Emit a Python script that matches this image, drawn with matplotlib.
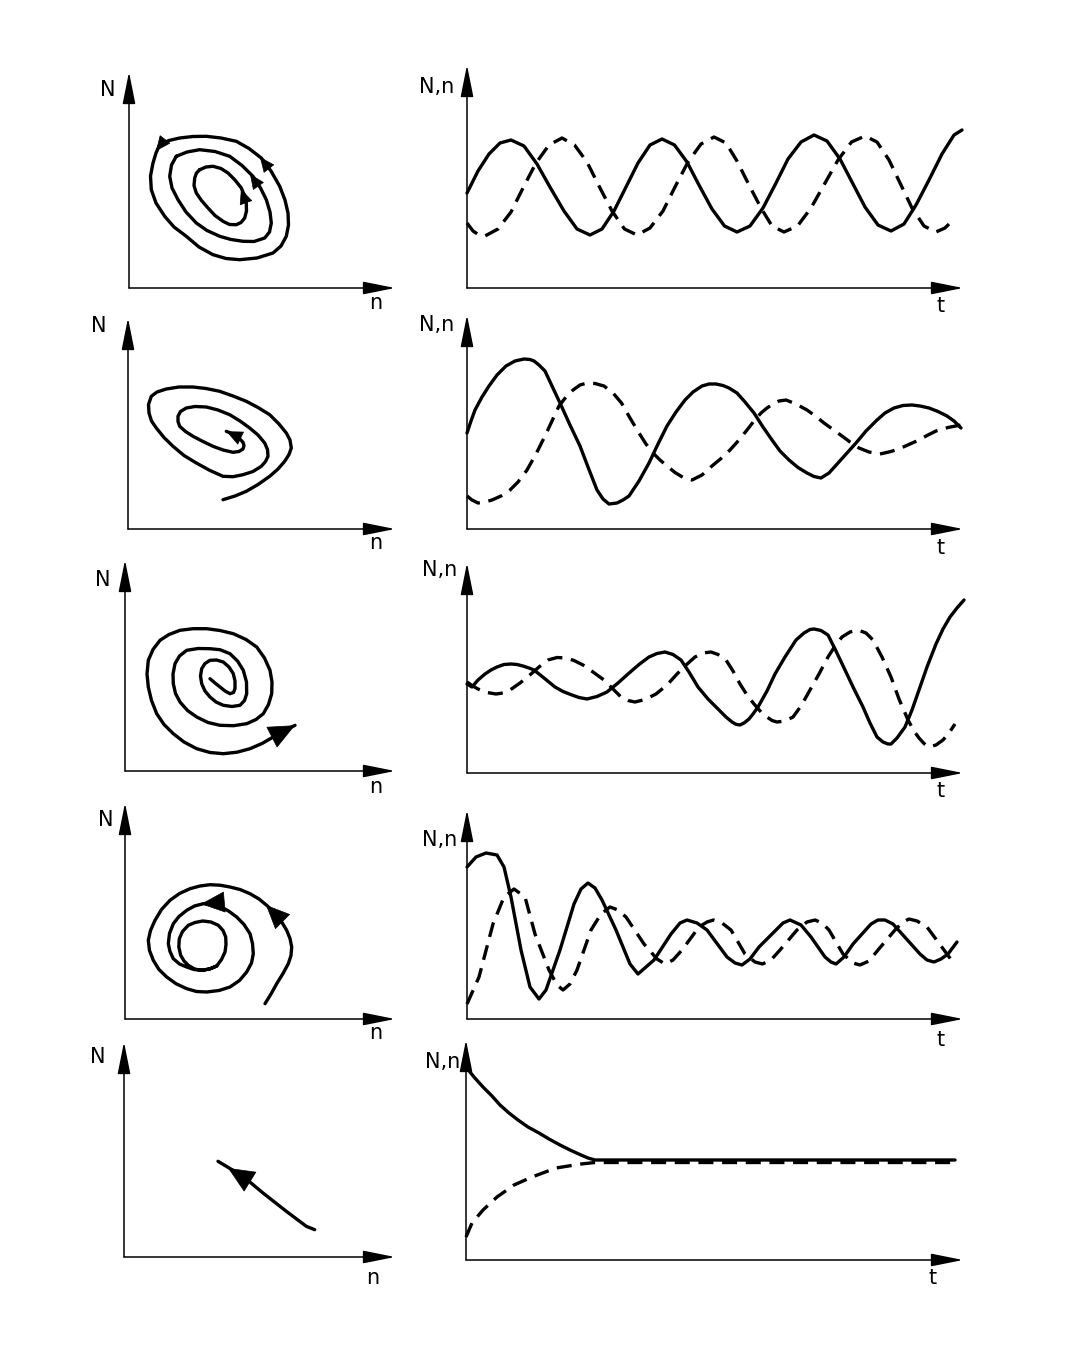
import matplotlib
matplotlib.use('Agg')
import matplotlib.pyplot as plt

W, H = 1073, 1371
fig = plt.figure(figsize=(W / 100, H / 100), dpi=100)

# ---- time series (t, value) ----
t1_N = [0, 11, 22, 33, 44, 57, 70, 83.5, 97, 110, 123, 135, 147, 159, 171, 183, 195, 207.5, 220, 232.5, 245, 257.5,
        270, 283, 296, 308.5, 321, 334, 347, 360, 373, 385.5, 398, 411, 424, 437, 449, 462, 475, 487, 495]
v1_N = [95, 117, 134, 145, 148, 142, 124, 100, 77, 59, 53, 59, 77, 101, 125, 143, 149, 143, 126, 102, 79, 62,
        56, 62, 80, 104, 129, 146, 153, 147, 129, 105, 81, 63, 57, 64, 83, 108, 134, 153, 158]
t1_n = [0, 6, 12, 18, 31, 44, 56.5, 69, 82, 95, 107.5, 120, 132.5, 145, 157.5, 170, 183, 196, 208.5, 221, 234, 247,
        259, 270, 282, 294, 305, 317, 330.5, 344, 357.5, 371, 384.5, 398, 410, 422, 433.5, 445, 457, 469, 478, 488]
v1_n = [65, 57, 53, 52, 59, 76, 101, 125, 143, 150, 143, 126, 101, 77, 59, 53, 60, 77, 102, 126, 144, 151,
        145, 127, 103, 80, 62, 56, 62, 80, 104, 128, 146, 152, 146, 128, 104, 80, 62, 56, 60, 70]

t2_N = [0, 4, 8, 15, 22, 30, 39, 48, 57, 63, 67, 72, 78, 85, 93, 103, 113, 121, 130, 136, 142, 150, 156, 162, 172,
        182, 191, 200, 209, 218, 226, 235, 242, 249, 256, 262, 270, 278, 287, 296, 305, 313, 322, 331, 340, 347,
        354, 362, 371, 380, 389, 399, 410, 418, 427, 436, 445, 453, 462, 471, 480, 487, 494]
v2_N = [96, 108, 119, 132, 143, 154, 163, 168, 170, 169.5, 168, 164, 158, 143, 126, 104, 83, 62, 39, 30, 25, 26,
        29, 33, 48, 66, 85, 103, 117, 129, 137, 143, 145, 145, 143.5, 141, 136, 127, 116, 102, 89, 78, 69, 61.5,
        56, 52.5, 51, 56, 66, 76, 86, 98, 109, 116, 121, 123.5, 124, 123, 121, 117.5, 113, 108, 101]
t2_n = [0, 5, 11, 18, 25, 34, 43, 51, 60, 69, 78, 85, 92, 99, 106, 113, 120, 128, 137, 146, 154.5, 163, 172, 179,
        186, 193, 200, 208, 217, 225, 235, 245, 254, 263, 272, 280, 287, 294, 300, 306, 312, 319, 329, 340, 349,
        357, 366, 375, 383, 392, 402, 413, 424, 434, 443, 452, 460, 469, 481, 494]
v2_n = [33, 29, 26, 27, 29, 33, 39, 47, 59, 75, 93, 108, 123, 132, 139, 144, 146, 145.5, 143, 136, 126, 111, 96,
        85, 76, 69, 63, 56.5, 51, 49, 54, 63, 70.5, 79, 89, 99, 108, 116, 121, 125, 128, 129, 125, 119, 112.5,
        106, 99.5, 93, 87, 81, 77, 75, 77.5, 81, 85, 89, 93.5, 98, 101.5, 104]

t3_N = [0, 5, 11, 18, 24, 30, 37, 44, 50, 56, 62, 67, 77, 88, 96, 105, 112, 120, 130, 140, 151, 161, 172, 182, 190,
        198, 206, 214, 222, 231, 241, 252, 259, 265, 269, 273, 277, 282, 286, 291, 300, 308, 318, 329, 337, 343,
        347, 354, 361, 369, 378, 387, 396, 403, 410, 416, 421, 424, 430, 438, 445, 452, 460, 469, 476, 483, 490,
        497]
v3_N = [89, 86, 93, 99, 103, 106, 108.5, 109, 108.5, 107, 105, 103, 95, 86, 81.5, 78, 75.5, 74, 76.5, 81, 90, 99,
        108.5, 116, 119.5, 121, 118.5, 113, 101, 86, 74, 63, 56, 51, 48.7, 48, 50, 54, 59, 66, 82, 99, 116, 133,
        140, 143.5, 144, 142.5, 138, 122, 103, 84, 66, 50, 36, 31, 29, 29, 35, 46, 63, 83, 106, 129, 144, 156,
        165, 173]
t3_n = [0, 5, 11, 20, 29, 36, 43, 53, 64, 72, 81, 90, 99, 107, 116, 126, 137, 146, 154, 161, 168, 178, 189, 200,
        210, 219, 228, 236, 244, 251, 259, 266, 273, 280, 287, 294, 300, 305, 310, 318, 326, 334, 343, 352, 361,
        368, 375, 383, 391, 399, 406, 415, 424, 432, 441, 447, 452, 457, 462, 469, 476, 482, 488]
v3_n = [91, 87.5, 84, 80.5, 79, 80, 83, 90, 99, 106, 113, 115.5, 115, 112.5, 108, 101, 93, 84, 76, 72.5, 71,
        73.5, 79, 88, 99, 108, 116, 120, 121, 118.5, 113, 102, 89, 78, 69, 61, 56, 52.5, 51, 52, 56, 67, 83, 99,
        116, 127, 136, 141, 143, 140, 133, 116, 96, 74, 53, 42, 35, 29.5, 26, 28, 33, 40, 49]

t4_N = [0, 9, 19, 30, 37, 44, 54, 63, 72, 79, 93, 107, 114, 121, 128, 135, 149, 163, 171, 187, 204, 213, 220, 230,
        240, 260, 268, 275, 283, 292, 309, 316, 323, 334, 344, 358, 364, 369, 377, 386, 404, 411, 418, 426, 435,
        453, 460, 467, 474, 481, 490]
v4_N = [152, 162, 166, 164, 152, 122, 69, 32, 20, 29, 69, 115, 130, 136, 131, 119, 89, 55, 45, 59, 85, 96, 99, 96,
        89, 62, 56, 54, 60, 72, 89, 96, 99, 94, 82, 62, 57, 55, 62, 75, 95, 99, 99, 95, 85,
        65, 59, 57, 60, 65, 77]
t4_n = [0, 12, 26, 37, 47, 58, 68, 82, 90, 96, 103, 110, 124, 134, 143, 151, 159, 177, 190, 198, 206, 215, 232,
        240, 246.5, 255, 264, 278, 288, 295.5, 304, 313, 330, 340, 348, 355, 362, 376, 386, 393, 402, 411, 428,
        436, 442, 450, 460, 477, 488]
v4_n = [15, 42, 95, 122, 130, 122, 85, 49, 34, 29, 35, 49, 89, 105, 112, 109, 102, 75, 60, 55, 59, 69, 92,
        97, 99, 96, 89, 65, 57, 55, 59, 69, 89, 97, 99, 96, 89, 65, 56, 54, 58, 69, 89,
        97, 100, 98, 92, 69, 54]

t5_N = [0, 8, 17, 26, 34, 43, 52, 62, 73, 83, 94, 104, 115, 122, 129, 160, 250, 350, 489]
v5_N = [193, 183, 173, 164, 155, 147, 140, 133, 127, 121, 115, 110, 105, 102, 100, 100, 100, 100, 100]
t5_n = [0, 6, 17, 31, 48, 66, 90, 115, 129, 200, 300, 489]
v5_n = [23, 37, 50, 63, 75, 83, 92, 96, 97.5, 97.5, 97.5, 97.5]

# ---- phase portraits (n, N) ----
p1_outer_n = [30.7, 40, 50.7, 64, 77.3, 92, 107.3, 120, 132.3, 142, 150.7, 156, 159, 159.5, 157.3, 152, 144, 128,
              110.7, 97, 84, 70, 57.3, 45, 35.7, 27, 22.3, 21.5, 24, 27, 30.7]
p1_outer_N = [143.3, 147.5, 150, 151.5, 151.7, 150, 146.7, 139.5, 130, 117, 101.7, 88, 75, 63, 51.7, 42, 35, 30,
              28.3, 29.5, 33.3, 41, 51.7, 61, 71.7, 85, 98.3, 112, 125, 135, 143.3]
p1_mid_n = [47.3, 58, 70.7, 86, 100.7, 113, 124, 131.5, 137.3, 141, 142.3, 140.5, 135.7, 125, 114, 102, 90.7, 78,
            67.3, 57, 49, 43, 40.7, 42.5, 47.3]
p1_mid_N = [131.7, 136, 138.3, 136.5, 131.7, 122.5, 111.7, 100, 88.3, 76, 65, 56, 50, 46.5, 46.7, 48.5, 51.7, 57.5,
            65, 76, 88.3, 100, 111.7, 123, 131.7]
p1_in_n = [70.7, 77, 84, 92, 99, 106, 112.3, 115.5, 117.3, 117.5, 115.7, 112, 107.3, 100.5, 94, 86, 79, 72.5, 67.3,
           65, 65.7, 67.5, 70.7]
p1_in_N = [118.3, 121, 121.7, 119.5, 115, 108, 100, 92.5, 85, 77, 70, 65.5, 63.3, 63.5, 66.7, 72.5, 80, 87.5, 95,
           102.5, 110, 115, 118.3]

p2_n = [95, 107, 118.3, 130, 141.7, 150, 156.7, 161, 163.3, 162, 158.3, 151, 141.7, 130, 118.3, 105, 91.7, 78, 65,
        51, 38.3, 29, 23.3, 20.5, 21, 23.5, 28.3, 36, 45, 56, 68.3, 82, 95, 105, 115, 125, 133.3, 137.5, 140,
        139.5, 136.7, 130, 121.7, 112, 101.7, 90, 78.3, 67, 58.3, 52.5, 50, 50, 51.7, 57.5, 65, 75, 85, 95, 105,
        111, 115, 116, 115, 111, 106.7, 98.3]
p2_N = [29.3, 33, 37.7, 44.5, 52.7, 60, 67.7, 74.5, 81, 89, 96, 105, 114.3, 121.5, 127.7, 133, 137.7, 140.5, 142,
        142, 140, 137, 132.7, 124.5, 116, 108, 101, 91.5, 82.7, 73.5, 66, 58.5, 52.7, 52.3, 54.3, 57.5, 62.7,
        67.5, 72.7, 79.5, 86, 94, 101, 108, 114.3, 119, 122, 122.5, 121, 117.5, 112.7, 107.5, 102.7, 97.5, 92.7,
        87.5, 82.7, 79, 76.7, 77.5, 80, 83.5, 86.7, 91, 94.3, 97.7]

p3_n = [85, 90, 95, 100, 105, 108.5, 110, 110, 108.3, 104, 98.3, 91.5, 85, 80, 76.7, 75.5, 76.7, 80, 85, 91, 98.3,
        107, 115, 119.5, 121.7, 121.5, 118.3, 112.5, 105, 95, 85, 73, 61.7, 54.5, 50, 48, 48.3, 50.5, 55, 62.5,
        71.7, 83, 95, 108.5, 121.7, 131, 138.3, 143.5, 146.7, 147, 145, 139.5, 131.7, 121, 108.3, 95, 81.7, 68,
        55, 44, 35, 28, 23.3, 22, 23.3, 26.5, 31.7, 39, 48.3, 59, 71.7, 85, 98.3, 112, 125, 137, 148.3, 159, 170]
p3_N = [92.3, 88, 84, 80, 77.3, 78.5, 82.3, 90, 97.3, 104, 109, 111, 110.7, 107.5, 102.3, 95, 87.3, 80, 74, 69,
        65.7, 64.5, 65.7, 70.5, 77.3, 89, 100.7, 110, 117.3, 121.3, 122.3, 122.5, 120.7, 115, 107.3, 97, 87.3,
        77.5, 69, 60.5, 54, 48.5, 45.7, 45.3, 47.3, 51.5, 57.3, 66.5, 77.3, 89, 100.7, 113, 124, 131.5, 137.3,
        140.5, 142.3, 142.3, 140.7, 136.5, 130.7, 121.5, 110.7, 97, 84, 70.5, 57.3, 46.5, 37.3, 29, 22.3, 18.5,
        17.3, 18.8, 22.3, 27.5, 34, 40, 45.7]

p4_n = [140, 146, 151.7, 158, 163.3, 166, 166.7, 165, 161.7, 157, 151.7, 146.5, 141.7, 134, 125, 115, 105, 95, 85,
        75, 65, 54.5, 45, 36.5, 30, 25.5, 23.3, 24.5, 28.3, 34, 41.7, 51, 61.7, 71.5, 81.7, 94, 105, 114.5, 121.7,
        126.5, 128.3, 127.5, 125, 119, 111.7, 103.5, 95, 86.5, 78.3, 69.5, 61.7, 54, 48.3, 44.5, 43.3, 45, 48.3,
        54.5, 61.7, 69, 76.7, 84.5, 91.7, 96.5, 100, 101, 100.7, 98, 93.3, 86, 77.7, 70, 63.3, 57.5, 54.3, 53.8,
        55.7, 59, 63.3, 69.5, 76.7, 84.5, 91.7]
p4_N = [15.3, 25, 35.3, 45.5, 55.3, 63.5, 72, 80.5, 88.7, 96.5, 103.7, 109, 113.7, 120, 125.3, 129.5, 132, 133.8,
        134.3, 133, 130.3, 125.5, 118.7, 109.5, 98.7, 88.5, 78.7, 68.5, 58.7, 49.5, 42, 35.3, 30.3, 27.5, 27, 28.5,
        32, 38.5, 47, 56, 65.3, 75.5, 85.3, 94.5, 102, 108, 112.7, 115, 115.3, 113, 108.7, 102.5, 95.3, 85.5,
        75.3, 67.5, 60.3, 55, 52, 49.5, 48.7, 50, 53, 59.5, 67, 74.5, 82, 88.5, 93.7, 97, 98, 96.5, 93.7, 87.5,
        80.3, 72, 63.7, 58, 53.7, 50, 48.7, 50, 53]

p5_n = [190.7, 182.3, 162.3, 139, 119, 94]
p5_N = [27.3, 30.7, 45.7, 64, 80.7, 95.7]

# direction arrows on the phase curves (tail, tip)
arrows1 = [((34, 146), (27, 137)), ((141, 118), (131, 131)), ((128, 104), (121, 114)), ((116, 88), (112, 99))]
arrows2 = [((104, 95), (98.3, 97.7))]
arrows3 = [((155, 38), (170, 45.7))]
arrows4 = [((153, 102), (141, 114)), ((88, 116), (76, 115))]
arrows5 = [((125, 76), (104, 89))]

# panel layout: origin x, origin y (px from top), x range, y range
left_panels = [(129, 288, 266, 216), (128, 529, 267, 211), (125, 771, 270, 211), (125, 1019, 270, 216),
               (124, 1257, 271, 215)]
right_panels = [(467, 288, 496, 223), (467, 529, 496, 214), (467, 773, 496, 210), (467, 1019, 496, 209),
                (466, 1260, 497, 220)]

LW = 2.4
DASH = (4.5, 2.6)


def panel(ox, oy, xr, yr):
    ax = fig.add_axes([ox / W, 1 - oy / H, xr / W, yr / H])
    ax.set_xlim(0, xr)
    ax.set_ylim(0, yr)
    ax.axis('off')
    ap = dict(arrowstyle='-|>,head_length=1.1,head_width=0.22', lw=1.1, color='k',
              mutation_scale=18, shrinkA=0, shrinkB=0)
    ax.annotate('', xy=(xr, 0), xytext=(0, 0), arrowprops=ap)
    ax.annotate('', xy=(0, yr), xytext=(0, 0), arrowprops=ap)
    return ax


def label(x, y, s):
    fig.text(x / W, 1 - y / H, s, ha='center', va='center', fontsize=15, family='DejaVu Sans')


def head(ax, pairs, size):
    for a, b in pairs:
        ax.annotate('', xy=b, xytext=a,
                    arrowprops=dict(arrowstyle='-|>,head_length=0.9,head_width=0.4', lw=0.5, color='k',
                                    mutation_scale=size, shrinkA=0, shrinkB=0))


curve = dict(color='k', lw=LW, solid_capstyle='round', solid_joinstyle='round', clip_on=False)
dashed = dict(color='k', lw=LW, dashes=DASH, dash_capstyle='butt', dash_joinstyle='round', clip_on=False)

axl = [panel(*p) for p in left_panels]
axr = [panel(*p) for p in right_panels]

# phase portraits
axl[0].plot(p1_outer_n, p1_outer_N, **curve)
axl[0].plot(p1_mid_n, p1_mid_N, **curve)
axl[0].plot(p1_in_n, p1_in_N, **curve)
head(axl[0], arrows1, 11)
axl[1].plot(p2_n, p2_N, **curve)
head(axl[1], arrows2, 12)
axl[2].plot(p3_n, p3_N, **curve)
head(axl[2], arrows3, 20)
axl[3].plot(p4_n, p4_N, **curve)
head(axl[3], arrows4, 18)
axl[4].plot(p5_n, p5_N, **curve)
head(axl[4], arrows5, 20)

# time series
series = [(t1_N, v1_N, t1_n, v1_n), (t2_N, v2_N, t2_n, v2_n), (t3_N, v3_N, t3_n, v3_n),
          (t4_N, v4_N, t4_n, v4_n), (t5_N, v5_N, t5_n, v5_n)]
for ax, (ta, va, tb, vb) in zip(axr, series):
    ax.plot(ta, va, **curve)
    ax.plot(tb, vb, **dashed)

# axis labels
left_lab = [((108, 90), (376, 303)), ((99, 326), (376, 543)), ((103, 580), (376, 787)),
            ((106, 820), (376, 1033)), ((98, 1057), (373, 1278))]
right_lab = [((437, 87), (941, 306)), ((437, 325), (941, 548)), ((440, 570), (941, 791)),
             ((440, 840), (941, 1040)), ((443, 1062), (933, 1278))]
for (a, b) in left_lab:
    label(*a, 'N')
    label(*b, 'n')
for (a, b) in right_lab:
    label(*a, 'N,n')
    label(*b, 't')

fig.savefig('out.png', dpi=100, facecolor='white')
